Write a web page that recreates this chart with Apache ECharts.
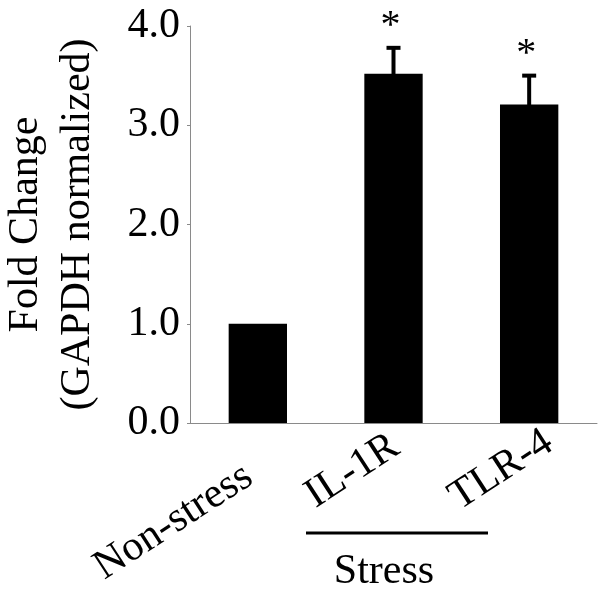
<!DOCTYPE html>
<html>
<head>
<meta charset="utf-8">
<script src="https://cdn.jsdelivr.net/npm/echarts@6/dist/echarts.min.js"></script>
<style>
html,body{margin:0;padding:0;background:#fff;}
#main{width:602px;height:598px;}
</style>
</head>
<body>
<div id="main"></div>
<script>
var categories = ['Non-stress', 'IL-1R', 'TLR-4'];
var foldChange = [1.0, 3.52, 3.21];
var errorUp = [0, 0.26, 0.29];
var significance = ['', '*', '*'];
var yTicks = [0, 1, 2, 3, 4];
var groupLabel = 'Stress';
var yName = 'Fold Change\n(GAPDH normalized)';

// per-label placement tweaks (pixels) relative to the category tick, as in the original figure
var labelShift = [[-9, 50], [2, 20], [20, 16]];

var FONT = "'Liberation Serif', 'Times New Roman', serif";
var chart = echarts.init(document.getElementById('main'), null, {renderer: 'canvas'});

var errData = categories.map(function (c, i) {
  return [i, foldChange[i], foldChange[i] + errorUp[i], significance[i]];
});

var option = {
  backgroundColor: '#ffffff',
  animation: false,
  grid: {left: 190, right: 5, top: 26, bottom: 175, containLabel: false, outerBoundsMode: 'none'},
  xAxis: {
    type: 'category',
    data: categories,
    boundaryGap: true,
    axisLine: {show: true, lineStyle: {color: '#8a8a8a', width: 1}},
    axisTick: {show: false},
    axisLabel: {show: false}
  },
  yAxis: {
    type: 'value',
    min: yTicks[0],
    max: yTicks[yTicks.length - 1],
    interval: 1,
    name: yName,
    nameLocation: 'middle',
    nameRotate: 90,
    nameGap: 86,
    nameTextStyle: {color: '#000', fontFamily: FONT, fontSize: 42, lineHeight: 52},
    axisLine: {show: true, lineStyle: {color: '#8a8a8a', width: 1}},
    axisTick: {show: true, inside: false, length: 3, lineStyle: {color: '#8a8a8a'}},
    splitLine: {show: false},
    axisLabel: {
      margin: 10,
      color: '#000',
      fontFamily: FONT,
      fontSize: 42,
      formatter: function (v) { return v.toFixed(1); }
    }
  },
  series: [
    {
      type: 'bar',
      data: foldChange,
      barWidth: '43%',
      itemStyle: {color: '#000'},
      z: 2
    },
    {
      type: 'custom',
      data: errData,
      z: 3,
      renderItem: function (params, api) {
        var i = api.value(0);
        if (api.value(2) <= api.value(1)) return null;
        var base = api.coord([i, api.value(1)]);
        var top = api.coord([i, api.value(2)]);
        var half = 7;
        var children = [
          {type: 'line', shape: {x1: base[0], y1: base[1] + 2, x2: base[0], y2: top[1]}, style: {stroke: '#000', lineWidth: 4}},
          {type: 'line', shape: {x1: base[0] - half, y1: top[1], x2: base[0] + half, y2: top[1]}, style: {stroke: '#000', lineWidth: 4}}
        ];
        var s = api.value(3);
        if (s) {
          children.push({
            type: 'text',
            style: {
              text: s,
              x: base[0] - 3,
              y: top[1] - 21,
              align: 'center',
              verticalAlign: 'middle',
              fill: '#000',
              font: '40px ' + FONT
            }
          });
        }
        return {type: 'group', children: children};
      }
    }
  ],
  graphic: [
    {
      id: 'groupLine',
      type: 'line',
      shape: {x1: 306, y1: 533, x2: 488, y2: 533},
      style: {stroke: '#000', lineWidth: 3}
    },
    {
      id: 'groupText',
      type: 'text',
      x: 384,
      y: 572,
      style: {
        text: groupLabel,
        align: 'center',
        verticalAlign: 'middle',
        fill: '#000',
        font: '42px ' + FONT
      }
    }
  ]
};
chart.setOption(option);

// category labels, rotated, anchored at the axis positions of each category
var labelGraphics = categories.map(function (c, i) {
  var p = chart.convertToPixel({xAxisIndex: 0, yAxisIndex: 0}, [c, 0]);
  return {
    id: 'xlab' + i,
    type: 'text',
    x: p[0] + labelShift[i][0],
    y: p[1] + labelShift[i][1],
    rotation: 33 * Math.PI / 180,
    style: {
      text: c,
      align: 'right',
      verticalAlign: 'middle',
      fill: '#000',
      font: '42px ' + FONT
    }
  };
});
chart.setOption({graphic: labelGraphics});
</script>
</body>
</html>
